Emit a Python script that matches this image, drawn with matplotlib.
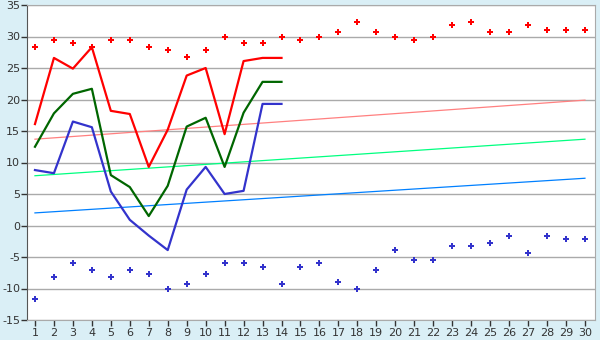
import matplotlib
matplotlib.use('Agg')
import matplotlib.pyplot as plt
import numpy as np

plt.rcParams['axes.unicode_minus'] = False

days = list(range(1, 31))
days_line = list(range(1, 15))

# record highs / lows (markers)
rec_high = [28.3, 29.4, 28.9, 28.3, 29.4, 29.4, 28.3, 27.8, 26.7, 27.8,
            30.0, 28.9, 28.9, 30.0, 29.4, 30.0, 30.7, 32.3, 30.7, 30.0,
            29.4, 30.0, 31.8, 32.3, 30.7, 30.7, 31.8, 31.1, 31.1, 31.1]
rec_low = [-11.7, -8.2, -6.0, -7.1, -8.2, -7.1, -7.7, -10.0, -9.3, -7.7,
           -6.0, -6.0, -6.6, -9.3, -6.6, -6.0, -8.9, -10.0, -7.1, -3.9,
           -5.5, -5.5, -3.3, -3.3, -2.8, -1.7, -4.4, -1.7, -2.2, -2.2]

# daily values (lines)
t_max = [16.1, 26.6, 24.9, 28.3, 18.2, 17.7, 9.3, 15.2, 23.8, 25.0,
         14.5, 26.1, 26.6, 26.6]
t_mean = [12.5, 17.8, 20.9, 21.7, 8.0, 6.1, 1.5, 6.3, 15.7, 17.1,
          9.3, 17.9, 22.8, 22.8]
t_min = [8.8, 8.3, 16.5, 15.6, 5.4, 0.9, -1.6, -3.9, 5.7, 9.3,
         5.0, 5.5, 19.3, 19.3]

# normal trend lines (start, end)
trend_x = [1, 30]
norm_max = [13.7, 19.9]
norm_mean = [7.9, 13.7]
norm_min = [2.0, 7.5]

fig = plt.figure(figsize=(6, 3.4), dpi=100, facecolor='#daeff6')
ax = fig.add_axes([27 / 600, 20 / 340, 568 / 600, 315 / 340])
ax.set_facecolor('white')

ax.plot(trend_x, norm_max, color='#ff8080', lw=0.9)
ax.plot(trend_x, norm_mean, color='#00ff80', lw=0.9)
ax.plot(trend_x, norm_min, color='#0080ff', lw=0.9)

ax.plot(days_line, t_max, color='#ff0000', lw=1.6)
ax.plot(days_line, t_mean, color='#006600', lw=1.6)
ax.plot(days_line, t_min, color='#3333cc', lw=1.6)

ax.plot(days, rec_high, 'P', color='#ff0000', ms=5, mew=0)
ax.plot(days, rec_low, 'P', color='#3333cc', ms=5, mew=0)

ax.set_xlim(0.58, 30.53)
ax.set_ylim(-15, 35)
ax.set_xticks(days)
ax.set_yticks(np.arange(-15, 36, 5))
ax.yaxis.grid(True, color='#aaaaaa', lw=1)
ax.set_axisbelow(True)

for s in ['top', 'right', 'bottom']:
    ax.spines[s].set_color('#aaaaaa')
ax.spines['left'].set_color('#555555')
ax.tick_params(axis='both', labelsize=8, colors='#333333', length=4,
               width=1, direction='out', pad=2)
ax.tick_params(axis='y', pad=1)

fig.savefig('out.png', dpi=100, facecolor=fig.get_facecolor())
